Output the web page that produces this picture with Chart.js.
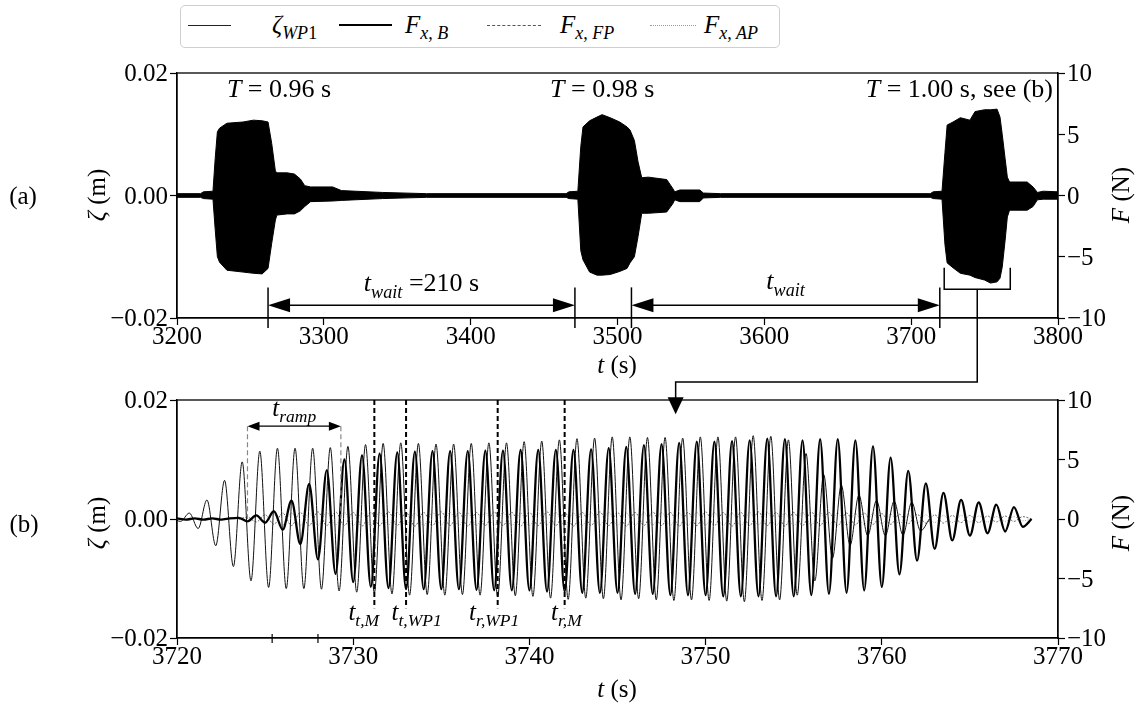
<!DOCTYPE html>
<html>
<head>
<meta charset="utf-8">
<script src="https://cdn.jsdelivr.net/npm/chart.js@4.4.1/dist/chart.umd.min.js"></script>
<style>
  body { margin: 0; background: #fff; }
  #page { position: relative; width: 1138px; height: 704px; overflow: hidden; font-family: "Liberation Serif", serif; color: #000; }
  canvas { position: absolute; left: 0; }
  .lbl { position: absolute; font-size: 25px; white-space: nowrap; line-height: 1; }
  .rot { transform: translate(-50%, -50%) rotate(-90deg); }
  .ctr { transform: translate(-50%, -50%); }
  .sub { font-size: 18px; position: relative; top: 6px; }
  .tk, .an { position: absolute; left: -999px; top: 0; white-space: nowrap; line-height: 1; font-size: 25px; }
  .an.big { font-size: 26px; }
  .an .s { font-size: 0.7em; position: relative; top: 0.36em; }
  #legend { position: absolute; left: 180px; top: 5px; width: 598px; height: 41px; border: 1px solid #cfcfcf; border-radius: 5px; }
  .lg { position: absolute; top: 25px; height: 0; }
  .lt { position: absolute; top: 12px; font-size: 25px; white-space: nowrap; line-height: 1; }
</style>
</head>
<body>
<div id="page">
  <div id="legend"></div>
  <div class="lg" style="left:188px;width:43px;border-top:1px solid #222;"></div>
  <div class="lt" style="left:272px;"><i>ζ</i><span class="sub"><i>WP</i>1</span></div>
  <div class="lg" style="left:339px;width:53px;border-top:2.5px solid #000;top:24px;"></div>
  <div class="lt" style="left:405px;"><i>F</i><span class="sub"><i>x, B</i></span></div>
  <div class="lg" style="left:487px;width:54px;border-top:1px dashed #555;"></div>
  <div class="lt" style="left:560px;"><i>F</i><span class="sub"><i>x, FP</i></span></div>
  <div class="lg" style="left:650px;width:46px;border-top:1px dotted #999;"></div>
  <div class="lt" style="left:704px;"><i>F</i><span class="sub"><i>x, AP</i></span></div>

  <canvas id="chartA" width="1138" height="360" style="top:0"></canvas>
  <canvas id="chartB" width="1138" height="344" style="top:360px"></canvas>
  <canvas id="overlay" width="1138" height="704" style="top:0;pointer-events:none"></canvas>

  <div class="lbl ctr" style="left:23px;top:195px;">(a)</div>
  <div class="lbl rot" style="left:96px;top:195px;"><i>ζ</i> (m)</div>
  <div class="lbl rot" style="left:1120px;top:195px;"><i>F</i> (N)</div>
  <div class="lbl ctr" style="left:617px;top:364px;"><i>t</i> (s)</div>

  <div class="lbl ctr" style="left:24px;top:523px;">(b)</div>
  <div class="lbl rot" style="left:96px;top:523px;"><i>ζ</i> (m)</div>
  <div class="lbl rot" style="left:1120px;top:523px;"><i>F</i> (N)</div>
  <div class="lbl ctr" style="left:617px;top:688px;"><i>t</i> (s)</div>

  <!-- tick labels; their places come from the chart scales -->
  <div class="tk" id="ax0" data-c="A" data-ax="x" data-v="3200">3200</div>
  <div class="tk" id="ax1" data-c="A" data-ax="x" data-v="3300">3300</div>
  <div class="tk" id="ax2" data-c="A" data-ax="x" data-v="3400">3400</div>
  <div class="tk" id="ax3" data-c="A" data-ax="x" data-v="3500">3500</div>
  <div class="tk" id="ax4" data-c="A" data-ax="x" data-v="3600">3600</div>
  <div class="tk" id="ax5" data-c="A" data-ax="x" data-v="3700">3700</div>
  <div class="tk" id="ax6" data-c="A" data-ax="x" data-v="3800">3800</div>
  <div class="tk" id="ay0" data-c="A" data-ax="y" data-v="0.02">0.02</div>
  <div class="tk" id="ay1" data-c="A" data-ax="y" data-v="0">0.00</div>
  <div class="tk" id="ay2" data-c="A" data-ax="y" data-v="-0.02">−0.02</div>
  <div class="tk" id="ar0" data-c="A" data-ax="y2" data-v="10">10</div>
  <div class="tk" id="ar1" data-c="A" data-ax="y2" data-v="5">5</div>
  <div class="tk" id="ar2" data-c="A" data-ax="y2" data-v="0">0</div>
  <div class="tk" id="ar3" data-c="A" data-ax="y2" data-v="-5">−5</div>
  <div class="tk" id="ar4" data-c="A" data-ax="y2" data-v="-10">−10</div>
  <div class="tk" id="bx0" data-c="B" data-ax="x" data-v="3720">3720</div>
  <div class="tk" id="bx1" data-c="B" data-ax="x" data-v="3730">3730</div>
  <div class="tk" id="bx2" data-c="B" data-ax="x" data-v="3740">3740</div>
  <div class="tk" id="bx3" data-c="B" data-ax="x" data-v="3750">3750</div>
  <div class="tk" id="bx4" data-c="B" data-ax="x" data-v="3760">3760</div>
  <div class="tk" id="bx5" data-c="B" data-ax="x" data-v="3770">3770</div>
  <div class="tk" id="by0" data-c="B" data-ax="y" data-v="0.02">0.02</div>
  <div class="tk" id="by1" data-c="B" data-ax="y" data-v="0">0.00</div>
  <div class="tk" id="by2" data-c="B" data-ax="y" data-v="-0.02">−0.02</div>
  <div class="tk" id="br0" data-c="B" data-ax="y2" data-v="10">10</div>
  <div class="tk" id="br1" data-c="B" data-ax="y2" data-v="5">5</div>
  <div class="tk" id="br2" data-c="B" data-ax="y2" data-v="0">0</div>
  <div class="tk" id="br3" data-c="B" data-ax="y2" data-v="-5">−5</div>
  <div class="tk" id="br4" data-c="B" data-ax="y2" data-v="-10">−10</div>

  <!-- annotation text; places come from the chart scales -->
  <div class="an big" id="tT0"><i>T</i> = 0.96 s</div>
  <div class="an big" id="tT1"><i>T</i> = 0.98 s</div>
  <div class="an big" id="tT2"><i>T</i> = 1.00 s, see (b)</div>
  <div class="an big" id="tW0"><i>t</i><span class="s"><i>wait</i></span> =210 s</div>
  <div class="an big" id="tW1"><i>t</i><span class="s"><i>wait</i></span></div>
  <div class="an" id="tRamp"><i>t</i><span class="s"><i>ramp</i></span></div>
  <div class="an" id="tE0"><i>t</i><span class="s"><i>t,M</i></span></div>
  <div class="an" id="tE1"><i>t</i><span class="s"><i>t,WP1</i></span></div>
  <div class="an" id="tE2"><i>t</i><span class="s"><i>r,WP1</i></span></div>
  <div class="an" id="tE3"><i>t</i><span class="s"><i>r,M</i></span></div>
</div>

<script>
// ---- (a) overview: outline of the dense record, t (s) / ζ (m) ----
const envT = [3200, 3216, 3218, 3224.5, 3226, 3227.5, 3229, 3234, 3245, 3252, 3258, 3262, 3264.5, 3267, 3268, 3275, 3280, 3284, 3287, 3291, 3306, 3312, 3340, 3370,
  3465, 3467, 3473, 3475, 3476.5, 3481, 3486, 3489.5, 3495, 3501.5, 3506.5, 3508.5, 3511.5, 3514, 3516.5, 3521, 3533.5, 3537.5, 3539, 3542.5, 3556, 3558.5, 3570,
  3713, 3715, 3721, 3723, 3724.5, 3728.5, 3733.5, 3740, 3743.5, 3750, 3754, 3758.5, 3760.5, 3762, 3764, 3765.5, 3767, 3779, 3783, 3786, 3790, 3800];
const envHi = [0.0003, 0.0003, 0.0006, 0.0007, 0.0060, 0.0104, 0.0110, 0.0118, 0.0120, 0.0123, 0.0122, 0.0120, 0.0085, 0.0040, 0.0037, 0.0037, 0.0035, 0.0027, 0.0016, 0.0014, 0.0014, 0.0008, 0.0005, 0.0003,
  0.0003, 0.0006, 0.0007, 0.0080, 0.0112, 0.0122, 0.0128, 0.0132, 0.0127, 0.0120, 0.0112, 0.0107, 0.0090, 0.0055, 0.0029, 0.0030, 0.0026, 0.0012, 0.0006, 0.0009, 0.0009, 0.0004, 0.0003,
  0.0003, 0.0006, 0.0007, 0.0070, 0.0115, 0.0120, 0.0127, 0.0123, 0.0137, 0.0140, 0.0140, 0.0141, 0.0128, 0.0100, 0.0060, 0.0030, 0.0022, 0.0022, 0.0014, 0.0005, 0.0007, 0.0006];
const envLo = [-0.0003, -0.0003, -0.0005, -0.0006, -0.0055, -0.0100, -0.0109, -0.0122, -0.0125, -0.0127, -0.0128, -0.0119, -0.0078, -0.0040, -0.0032, -0.0030, -0.0030, -0.0025, -0.0018, -0.0010, -0.0009, -0.0008, -0.0005, -0.0003,
  -0.0003, -0.0005, -0.0006, -0.0090, -0.0105, -0.0125, -0.0130, -0.0130, -0.0129, -0.0124, -0.0119, -0.0110, -0.0100, -0.0067, -0.0029, -0.0029, -0.0027, -0.0014, -0.0007, -0.0010, -0.0010, -0.0004, -0.0003,
  -0.0003, -0.0005, -0.0006, -0.0080, -0.0110, -0.0118, -0.0127, -0.0130, -0.0134, -0.0138, -0.0143, -0.0141, -0.0135, -0.0117, -0.0073, -0.0035, -0.0024, -0.0024, -0.0018, -0.0007, -0.0006, -0.0006];

const waitMarks = [3262, 3471, 3509.5, 3719.5];

// ---- (b) zoom of the T = 1.00 s run: wave crests and troughs, half a period apart ----
const T_WAVE = 1.00;
const zetaStart = 3719.7;
const zetaWP1 = [ // m
  0.0002, -0.0004, 0.0010, -0.0016, 0.0032, -0.0045, 0.0065, -0.0080, 0.0096, -0.0104,
  0.0114, -0.0115, 0.0119, -0.0117, 0.0119, -0.0117, 0.0119, -0.0118, 0.0120, -0.0121,
  0.0122, -0.0123, 0.0125, -0.0124, 0.0127, -0.0126, 0.0128, -0.0128, 0.0127, -0.0127,
  0.0126, -0.0128, 0.0126, -0.0127, 0.0127, -0.0128, 0.0128, -0.0130, 0.0128, -0.0129,
  0.0130, -0.0130, 0.0131, -0.0133, 0.0133, -0.0135, 0.0135, -0.0133, 0.0136, -0.0134,
  0.0138, -0.0136, 0.0138, -0.0134, 0.0137, -0.0136, 0.0137, -0.0137, 0.0136, -0.0136,
  0.0138, -0.0137, 0.0138, -0.0138, 0.0138, -0.0139, 0.0140, -0.0137, 0.0139, -0.0136,
  0.0133, -0.0128, 0.0110, -0.0104, 0.0075, -0.0066, 0.0057, -0.0044, 0.0040, -0.0028,
  0.0031, -0.0028, 0.0030, -0.0027, 0.0028, -0.0020, 0.0000];
const forceBStart = 3720.0;
const forceB = [ // N
  0.05, -0.05, 0.05, -0.05, 0.05, -0.05, 0.05, 0.10, -0.20, 0.30,
  -0.30, 0.65, -0.90, 1.55, -2.10, 2.95, -3.40, 4.10, -4.60, 5.00,
  -5.30, 5.35, -5.70, 5.50, -5.80, 5.60, -5.90, 5.65, -5.90, 5.70,
  -5.90, 5.70, -5.90, 5.70, -5.95, 5.75, -6.00, 5.75, -6.00, 5.80,
  -6.00, 5.80, -6.10, 5.80, -6.10, 5.80, -6.20, 5.85, -6.20, 5.95,
  -6.20, 6.05, -6.30, 6.20, -6.30, 6.30, -6.40, 6.40, -6.40, 6.50,
  -6.40, 6.50, -6.50, 6.55, -6.50, 6.60, -6.50, 6.75, -6.50, 6.70,
  -6.50, 6.60, -6.40, 6.70, -6.30, 6.70, -6.20, 6.60, -6.00, 6.10,
  -5.70, 5.15, -4.65, 4.05, -3.50, 3.00, -2.50, 2.20, -1.80, 1.60,
  -1.40, 1.40, -1.20, 1.20, -1.05, 1.00, -0.65, 0.00];
const forceFPStart = 3723.5;
const forceFP = [ // N
  0, 0.15, -0.25, 0.35, -0.45, 0.50, -0.55, 0.55, -0.55, 0.60,
  -0.55, 0.60, -0.55, 0.55, -0.60, 0.55, -0.55, 0.60, -0.55, 0.55,
  -0.60, 0.55, -0.55, 0.60, -0.55, 0.55, -0.60, 0.55, -0.55, 0.60,
  -0.55, 0.55, -0.60, 0.55, -0.55, 0.60, -0.55, 0.55, -0.60, 0.55,
  -0.55, 0.60, -0.55, 0.55, -0.60, 0.55, -0.55, 0.60, -0.55, 0.55,
  -0.60, 0.55, -0.55, 0.60, -0.55, 0.55, -0.60, 0.55, -0.55, 0.60,
  -0.55, 0.55, -0.60, 0.55, -0.55, 0.60, -0.55, 0.55, -0.55, 0.50,
  -0.50, 0.50, -0.45, 0.45, -0.45, 0.40, -0.40, 0.40, -0.35, 0.35,
  -0.35, 0.30, -0.30, 0.30, -0.30, 0.25, -0.25, 0.25, -0.20, 0.20, 0];
const forceAPStart = 3723.5;
const forceAP = [ // N
  0, -0.10, 0.25, -0.35, 0.40, -0.50, 0.50, -0.55, 0.50, -0.55,
  0.55, -0.50, 0.55, -0.55, 0.50, -0.55, 0.55, -0.50, 0.55, -0.55,
  0.50, -0.55, 0.55, -0.50, 0.55, -0.55, 0.50, -0.55, 0.55, -0.50,
  0.55, -0.55, 0.50, -0.55, 0.55, -0.50, 0.55, -0.55, 0.50, -0.55,
  0.55, -0.50, 0.55, -0.55, 0.50, -0.55, 0.55, -0.50, 0.55, -0.55,
  0.50, -0.55, 0.55, -0.50, 0.55, -0.55, 0.50, -0.55, 0.55, -0.50,
  0.55, -0.55, 0.50, -0.55, 0.55, -0.50, 0.55, -0.50, 0.50, -0.50,
  0.45, -0.45, 0.45, -0.40, 0.40, -0.40, 0.35, -0.35, 0.35, -0.30,
  0.30, -0.30, 0.30, -0.25, 0.25, -0.25, 0.20, -0.20, 0.20, -0.15, 0];

const rampMarks = [3724.0, 3729.3];
const eventMarks = [3731.2, 3733.0, 3738.2, 3742.0];
const eventLabelAt = [3730.6, 3733.6, 3738.0, 3742.1];
const extraTicks = [3725.4, 3728.0];

// ---- helpers ----
const fmtZeta = (v) => Math.abs(v) < 1e-9 ? "0.00" : (v < 0 ? "\u2212" : "") + Math.abs(v).toFixed(2);
const fmtF = (v) => (v < 0 ? "\u2212" : "") + Math.abs(v);
const series = (t0, vals) => vals.map((v, i) => ({ x: t0 + i * T_WAVE / 2, y: v }));

// text places are collected as css rules, the text elements themselves stay untouched
const rules = [];
function place(id, x, baseline, align, size) {
  const tx = align === "center" ? -50 : align === "right" ? -100 : 0;
  rules.push(`#${id}{left:${x.toFixed(1)}px;top:${(baseline - 0.8375 * size).toFixed(1)}px;transform:translateX(${tx}%);}`);
}

function head(ctx, x, y, dx, dy, len, half) {
  // filled triangle with its tip at (x, y), pointing along (dx, dy)
  ctx.beginPath();
  ctx.moveTo(x, y);
  ctx.lineTo(x - dx * len - dy * half, y - dy * len - dx * half);
  ctx.lineTo(x - dx * len + dy * half, y - dy * len + dx * half);
  ctx.closePath();
  ctx.fill();
}

function dblArrow(ctx, x1, x2, y, len, half) {
  ctx.beginPath(); ctx.moveTo(x1 + len * 0.8, y); ctx.lineTo(x2 - len * 0.8, y); ctx.stroke();
  head(ctx, x1, y, -1, 0, len, half);
  head(ctx, x2, y, 1, 0, len, half);
}

function axisOpts(min, max, step, fmt, position, size) {
  return {
    type: "linear", position, min, max,
    ticks: { stepSize: step, callback: fmt, color: "rgba(0,0,0,0)", font: { size: 25 }, padding: 2, maxRotation: 0, autoSkip: false },
    grid: { drawOnChartArea: false, drawTicks: true, tickLength: 7, tickColor: "#000", tickWidth: 1.2 },
    border: { display: true, color: "#000", width: 1.3 },
    afterFit: (s) => { if (s.isHorizontal()) s.height = size; else s.width = size; }
  };
}

const frame = {
  id: "frame",
  afterDraw(chart) {
    const { ctx, chartArea: a } = chart;
    ctx.save();
    ctx.strokeStyle = "#000"; ctx.lineWidth = 1.3;
    ctx.strokeRect(a.left, a.top, a.right - a.left, a.bottom - a.top);
    ctx.restore();
  }
};

// ---- (a) annotation lines ----
const annoA = {
  id: "annoA",
  afterDraw(chart) {
    const { ctx, chartArea: a, scales: { x, y } } = chart;
    ctx.save();
    ctx.strokeStyle = "#000"; ctx.fillStyle = "#000"; ctx.lineWidth = 1.5;
    for (const t of waitMarks) {
      const px = x.getPixelForValue(t);
      ctx.beginPath(); ctx.moveTo(px, y.getPixelForValue(-0.015)); ctx.lineTo(px, a.bottom + 10); ctx.stroke();
    }
    const yA = y.getPixelForValue(-0.0179);
    dblArrow(ctx, x.getPixelForValue(waitMarks[0]), x.getPixelForValue(waitMarks[1]), yA, 22, 7);
    dblArrow(ctx, x.getPixelForValue(waitMarks[2]), x.getPixelForValue(waitMarks[3]), yA, 22, 7);
    // bracket around the run shown in (b)
    const bx1 = x.getPixelForValue(3722.5), bx2 = x.getPixelForValue(3767.5);
    const by1 = y.getPixelForValue(-0.0118), by2 = y.getPixelForValue(-0.0153);
    ctx.beginPath(); ctx.moveTo(bx1, by1); ctx.lineTo(bx1, by2); ctx.lineTo(bx2, by2); ctx.lineTo(bx2, by1); ctx.stroke();
    ctx.restore();
  }
};

// ---- (b) annotation lines ----
const annoB = {
  id: "annoB",
  afterDraw(chart) {
    const { ctx, chartArea: a, scales: { x, y } } = chart;
    ctx.save();
    const yR = y.getPixelForValue(0.0156);
    ctx.strokeStyle = "#888"; ctx.lineWidth = 1.2; ctx.setLineDash([5, 3]);
    for (const t of rampMarks) {
      const px = x.getPixelForValue(t);
      ctx.beginPath(); ctx.moveTo(px, yR); ctx.lineTo(px, y.getPixelForValue(0)); ctx.stroke();
    }
    ctx.setLineDash([]);
    ctx.strokeStyle = "#000"; ctx.fillStyle = "#000"; ctx.lineWidth = 1.2;
    dblArrow(ctx, x.getPixelForValue(rampMarks[0]), x.getPixelForValue(rampMarks[1]), yR, 12, 4.5);

    ctx.lineWidth = 2; ctx.setLineDash([5, 3]);
    for (const t of eventMarks) {
      const px = x.getPixelForValue(t);
      ctx.beginPath(); ctx.moveTo(px, a.top); ctx.lineTo(px, y.getPixelForValue(-0.0150)); ctx.stroke();
    }
    ctx.setLineDash([]);
    ctx.lineWidth = 1.2;
    for (const t of extraTicks) {
      const px = x.getPixelForValue(t);
      ctx.beginPath(); ctx.moveTo(px, a.bottom - 4); ctx.lineTo(px, a.bottom + 5); ctx.stroke();
    }
    ctx.restore();
  }
};

const chartA = new Chart(document.getElementById("chartA"), {
  type: "line",
  data: {
    datasets: [
      { data: envT.map((t, i) => ({ x: t, y: envHi[i] })), borderColor: "#000", backgroundColor: "#000", borderWidth: 1, pointRadius: 0, fill: "+1", tension: 0 },
      { data: envT.map((t, i) => ({ x: t, y: envLo[i] })), borderColor: "#000", borderWidth: 1, pointRadius: 0, fill: false, tension: 0 }
    ]
  },
  options: {
    responsive: false, animation: false, devicePixelRatio: 1,
    layout: { padding: { top: 73, left: 0, right: 0, bottom: 0 } },
    plugins: { legend: { display: false }, tooltip: { enabled: false } },
    scales: {
      x: axisOpts(3200, 3800, 100, (v) => v, "bottom", 42),
      y: axisOpts(-0.02, 0.02, 0.02, fmtZeta, "left", 177),
      y2: axisOpts(-10, 10, 5, fmtF, "right", 80)
    }
  },
  plugins: [frame, annoA]
});

const chartB = new Chart(document.getElementById("chartB"), {
  type: "line",
  data: {
    datasets: [
      { label: "F_x,B", data: series(forceBStart, forceB), yAxisID: "y2", borderColor: "#000", borderWidth: 2.3, pointRadius: 0, cubicInterpolationMode: "monotone", order: 0 },
      { label: "zeta_WP1", data: series(zetaStart, zetaWP1), yAxisID: "y", borderColor: "#111", borderWidth: 1, pointRadius: 0, cubicInterpolationMode: "monotone", order: 1 },
      { label: "F_x,FP", data: series(forceFPStart, forceFP), yAxisID: "y2", borderColor: "#555", borderWidth: 0.9, borderDash: [2, 1.5], pointRadius: 0, cubicInterpolationMode: "monotone", order: 2 },
      { label: "F_x,AP", data: series(forceAPStart, forceAP), yAxisID: "y2", borderColor: "#999", borderWidth: 0.9, borderDash: [1, 1.5], pointRadius: 0, cubicInterpolationMode: "monotone", order: 3 }
    ]
  },
  options: {
    responsive: false, animation: false, devicePixelRatio: 1,
    layout: { padding: { top: 40, left: 0, right: 0, bottom: 0 } },
    plugins: { legend: { display: false }, tooltip: { enabled: false } },
    scales: {
      x: axisOpts(3720, 3770, 10, (v) => v, "bottom", 66),
      y: axisOpts(-0.02, 0.02, 0.02, fmtZeta, "left", 177),
      y2: axisOpts(-10, 10, 5, fmtF, "right", 80)
    }
  },
  plugins: [frame, annoB]
});

const charts = { A: { chart: chartA, off: 0 }, B: { chart: chartB, off: 360 } };

// ---- tick label places from the scales ----
document.querySelectorAll(".tk").forEach((el) => {
  const { chart, off } = charts[el.dataset.c];
  const a = chart.chartArea;
  const ax = el.dataset.ax;
  const px = chart.scales[ax].getPixelForValue(parseFloat(el.dataset.v));
  if (ax === "x") place(el.id, px, off + a.bottom + 26, "center", 25);
  else if (ax === "y") place(el.id, a.left - 9, off + px + 8.3, "right", 25);
  else place(el.id, a.right + 9, off + px + 8.3, "left", 25);
});

// ---- annotation text places from the scales ----
{
  const { x, y } = chartA.scales;
  const a = chartA.chartArea;
  const yT = y.getPixelForValue(0.016);
  place("tT0", x.getPixelForValue(3234), yT, "left", 26);
  place("tT1", x.getPixelForValue(3454), yT, "left", 26);
  place("tT2", a.right - 5, yT, "right", 26);
  const yW = y.getPixelForValue(-0.0154);
  place("tW0", x.getPixelForValue((waitMarks[0] + waitMarks[1]) / 2), yW + 2, "center", 26);
  place("tW1", x.getPixelForValue((waitMarks[2] + waitMarks[3]) / 2), yW, "center", 26);
}
{
  const { x, y } = chartB.scales;
  const off = charts.B.off;
  place("tRamp", x.getPixelForValue((rampMarks[0] + rampMarks[1]) / 2), off + y.getPixelForValue(0.0174), "center", 25);
  eventLabelAt.forEach((t, i) => place("tE" + i, x.getPixelForValue(t), off + y.getPixelForValue(-0.0170), "center", 25));
}
{
  const st = document.createElement("style");
  st.textContent = rules.join("\n");
  document.head.appendChild(st);
}

// ---- connector from the bracket in (a) down into (b) ----
{
  const c = document.getElementById("overlay").getContext("2d");
  const off = charts.B.off;
  const x1 = chartA.scales.x.getPixelForValue(3745);
  const y1 = chartA.scales.y.getPixelForValue(-0.0153);
  const yMid = off + chartB.chartArea.top - 18;
  const x2 = chartB.scales.x.getPixelForValue(3748.3);
  const tip = off + chartB.scales.y.getPixelForValue(0.0176);
  c.strokeStyle = "#000"; c.fillStyle = "#000"; c.lineWidth = 1.5;
  c.beginPath(); c.moveTo(x1, y1); c.lineTo(x1, yMid); c.lineTo(x2, yMid); c.lineTo(x2, tip - 14); c.stroke();
  head(c, x2, tip, 0, 1, 17, 8);
}
</script>
</body>
</html>
